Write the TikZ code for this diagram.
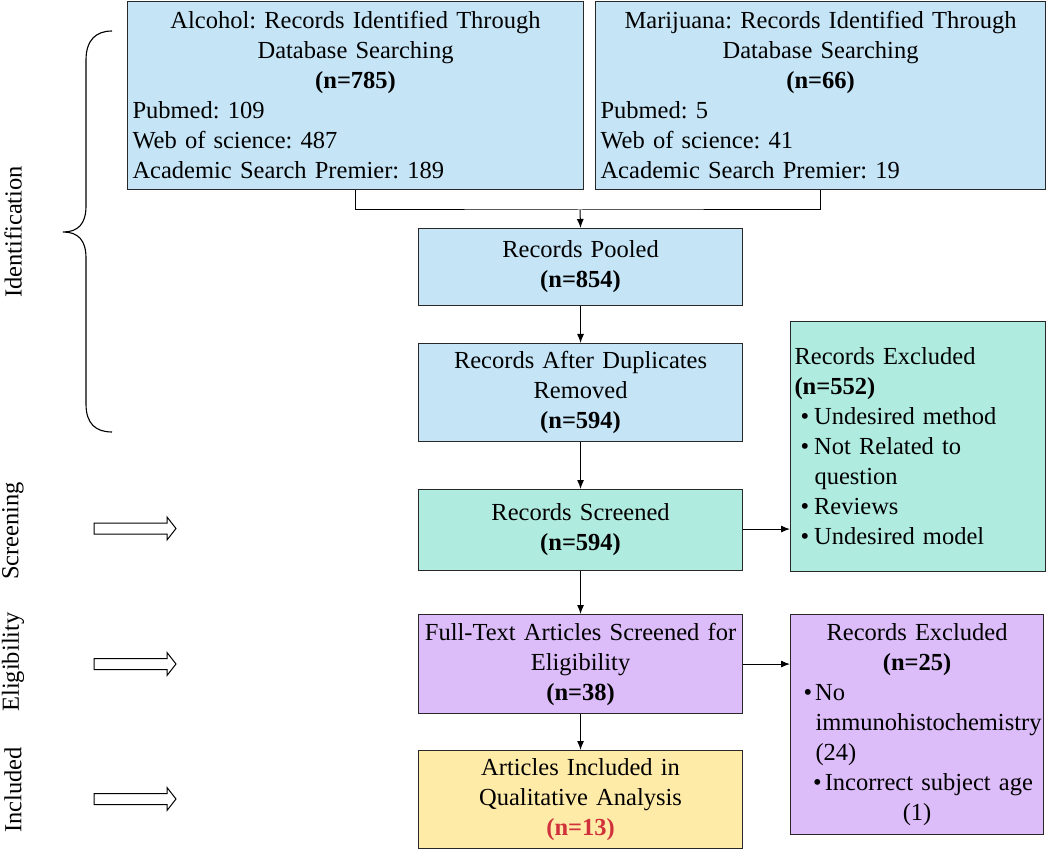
\documentclass[tikz,border=0pt]{standalone}
\usepackage{fontspec}
\setmainfont{Liberation Serif}
\usetikzlibrary{arrows.meta}
\definecolor{cblue}{RGB}{197,229,247}
\definecolor{cgreen}{RGB}{176,235,224}
\definecolor{cpurple}{RGB}{220,188,249}
\definecolor{cyellow}{RGB}{255,235,168}
\definecolor{cred}{RGB}{208,49,59}
\definecolor{cline}{RGB}{40,40,40}
\tikzset{
  box/.style={draw=cline, line width=1.1pt, inner xsep=4pt, inner ysep=2pt, anchor=north west, align=center},
  conn/.style={line width=1pt, draw=black},
  arr/.style={conn, -{Latex[length=9pt,width=7pt]}},
  hollow/.style={draw=black, line width=1pt, fill=white},
  phase/.style={rotate=90, anchor=center},
}
\begin{document}
\frenchspacing
\begin{tikzpicture}[x=1pt,y=-1pt, font=\fontsize{24.5}{30}\selectfont\frenchspacing]
\useasboundingbox (0,0) rectangle (1050,850);
% top boxes
\node[box, fill=cblue, minimum width=456pt, minimum height=188pt, text width=446pt] (alc) at (127,1)
 {{\centering Alcohol: Records Identified Through\\ Database Searching\\ \textbf{(n=785)}\par}
  {\raggedright Pubmed: 109\\ Web of science: 487\\ Academic Search Premier: 189\par}};
\node[box, fill=cblue, minimum width=450pt, minimum height=188pt, text width=440pt] (mar) at (595,1)
 {{\centering Marijuana: Records Identified Through\\ Database Searching\\ \textbf{(n=66)}\par}
  {\raggedright Pubmed: 5\\ Web of science: 41\\ Academic Search Premier: 19\par}};
% central column
\node[box, fill=cblue, minimum width=324pt, minimum height=77pt, text width=316pt] (pool) at (418,228)
 {Records Pooled\\ \textbf{(n=854)}};
\node[box, fill=cblue, minimum width=324pt, minimum height=98pt, text width=316pt] (dup) at (418,343)
 {Records After Duplicates\\ Removed\\ \textbf{(n=594)}};
\node[box, fill=cgreen, minimum width=324pt, minimum height=81pt, text width=316pt] (scr) at (418,489)
 {Records Screened\\ \textbf{(n=594)}};
\node[box, fill=cpurple, minimum width=324pt, minimum height=99pt, text width=316pt] (ft) at (418,614)
 {Full-Text Articles Screened for\\ Eligibility\\ \textbf{(n=38)}};
\node[box, fill=cyellow, minimum width=324pt, minimum height=98pt, text width=316pt] (inc) at (418,750)
 {Articles Included in\\ Qualitative Analysis\\ \textcolor{cred}{\textbf{(n=13)}}};
% exclusion boxes
\node[box, fill=cgreen, minimum width=255pt, minimum height=250pt, text width=247pt, align=left] (ex1) at (790,321)
 {Records Excluded\\ \textbf{(n=552)}\\
  \hspace*{6pt}•\hspace{5pt}Undesired method\\
  \hspace*{6pt}•\hspace{5pt}Not Related to\\
  \hspace*{20pt}question\\
  \hspace*{6pt}•\hspace{5pt}Reviews\\
  \hspace*{6pt}•\hspace{5pt}Undesired model};
\node[box, fill=cpurple, minimum width=253pt, minimum height=220pt, text width=245pt] (ex2) at (790,614)
 {Records Excluded\\ \textbf{(n=25)}\\
  \makebox[\linewidth][l]{\hspace*{9pt}•\hspace{3pt}No}\\
  \makebox[\linewidth][l]{\hspace*{21pt}immunohistochemistry}\\
  \makebox[\linewidth][l]{\hspace*{21pt}(24)}\\
  \hspace*{12pt}•\hspace{3pt}Incorrect subject age\\
  (1)};
% connectors
\coordinate (j) at (580,210);
\draw[conn] (alc.south) |- (j) -| (mar.south);
\draw[arr] (j) -- (pool.north);
\draw[arr] (pool.south) -- (dup.north);
\draw[arr] (dup.south) -- (scr.north);
\draw[arr] (scr.south) -- (ft.north);
\draw[arr] (ft.south) -- (inc.north);
\draw[arr] ([yshift=1pt]scr.east) -- ([yshift=1pt]scr.east -| ex1.west);
\draw[arr] (ft.east) -- (ft.east -| ex2.west);
% brace
\draw[line width=1.1pt] (112,31) .. controls (96,31) and (86,40) .. (86,60) -- (86,206)
  .. controls (86,224) and (78,232) .. (63,232)
  .. controls (78,232) and (86,240) .. (86,258) -- (86,404)
  .. controls (86,424) and (96,432) .. (112,432);
% phase labels
\node[phase] (lid) at (13,232) {Identification};
\node[phase] (lscr) at (13,531) {Screening};
\node[phase] (lel) at (13,662) {Eligibility};
\node[phase] (lin) at (13,790) {Included};
% hollow arrows
\foreach \yy in {528.5,664,799}{
  \draw[hollow] (94,\yy-5.5) -- (167,\yy-5.5) -- (167,\yy-11.5) -- (176,\yy) -- (167,\yy+11.5) -- (167,\yy+5.5) -- (94,\yy+5.5) -- cycle;
}
\end{tikzpicture}
\end{document}
